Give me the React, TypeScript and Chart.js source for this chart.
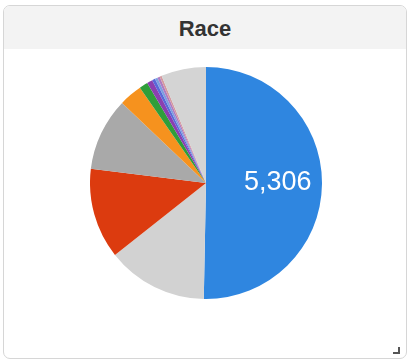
import React, { useEffect, useRef } from "react";
import { Chart, registerables } from "chart.js";

Chart.register(...registerables);

const categories = [
  "White",
  "Unknown",
  "Black",
  "Other",
  "Asian",
  "Hispanic",
  "Native American",
  "Pacific Islander",
  "Multiracial",
  "Middle Eastern",
  "Alaska Native",
  "Declined",
];
const values = [5306, 1483, 1328, 1073, 340, 126, 82, 45, 40, 35, 30, 660];
const colors = [
  "#2f86e0",
  "#d2d2d2",
  "#dc3b0f",
  "#a9a9a9",
  "#f6921e",
  "#2f9e3a",
  "#8b3fb0",
  "#5a68d8",
  "#7d9fe0",
  "#b07ac0",
  "#d49aa0",
  "#d4d4d4",
];
const title = "Race";

const labelPlugin = {
  id: "bigLabel",
  afterDatasetsDraw(chart: any) {
    const meta = chart.getDatasetMeta(0);
    const arc = meta.data[0];
    if (!arc) return;
    const p = arc.getProps(["x", "y", "startAngle", "endAngle", "outerRadius"], true);
    const mid = (p.startAngle + p.endAngle) / 2;
    const r = p.outerRadius * 0.61;
    const ctx = chart.ctx;
    ctx.save();
    ctx.fillStyle = "#ffffff";
    ctx.font = "27px 'Liberation Sans', Arial, sans-serif";
    ctx.textAlign = "center";
    ctx.textBaseline = "middle";
    ctx.fillText(values[0].toLocaleString("en-US"), p.x + Math.cos(mid) * r + 1, p.y + Math.sin(mid) * r - 1);
    ctx.restore();
  },
};

export default function App() {
  const ref = useRef<HTMLCanvasElement | null>(null);
  useEffect(() => {
    if (!ref.current) return;
    const chart = new Chart(ref.current, {
      type: "pie",
      data: {
        labels: categories,
        datasets: [
          {
            data: values,
            backgroundColor: colors,
            borderWidth: 0,
          },
        ],
      },
      options: {
        animation: false,
        responsive: false,
        maintainAspectRatio: false,
        layout: { padding: 0 },
        plugins: {
          legend: { display: false },
          tooltip: { enabled: false },
          title: { display: false },
        },
      },
      plugins: [labelPlugin],
    });
    return () => chart.destroy();
  }, []);

  return (
    <div style={{ position: "fixed", left: 0, top: 0, width: 411, height: 361, background: "#ffffff", overflow: "hidden" }}>
      <div
        style={{
          position: "absolute",
          left: 3,
          top: 5,
          width: 402,
          height: 352,
          border: "1px solid #d6d6d6",
          borderRadius: 7,
          background: "#ffffff",
          overflow: "hidden",
        }}
      >
        <div
          style={{
            height: 43,
            background: "#f3f3f3",
            color: "#333333",
            fontFamily: "'Liberation Sans', Arial, sans-serif",
            fontWeight: "bold",
            fontSize: 22,
            lineHeight: "46px",
            textAlign: "center",
          }}
        >
          {title}
        </div>
      </div>
      <canvas
        ref={ref}
        width={232}
        height={232}
        style={{ position: "absolute", left: 90, top: 67, width: 232, height: 232 }}
      />
      <div
        style={{
          position: "absolute",
          left: 393,
          top: 347,
          width: 7,
          height: 7,
          borderRight: "2px solid #555",
          borderBottom: "2px solid #555",
          boxSizing: "border-box",
        }}
      />
    </div>
  );
}
